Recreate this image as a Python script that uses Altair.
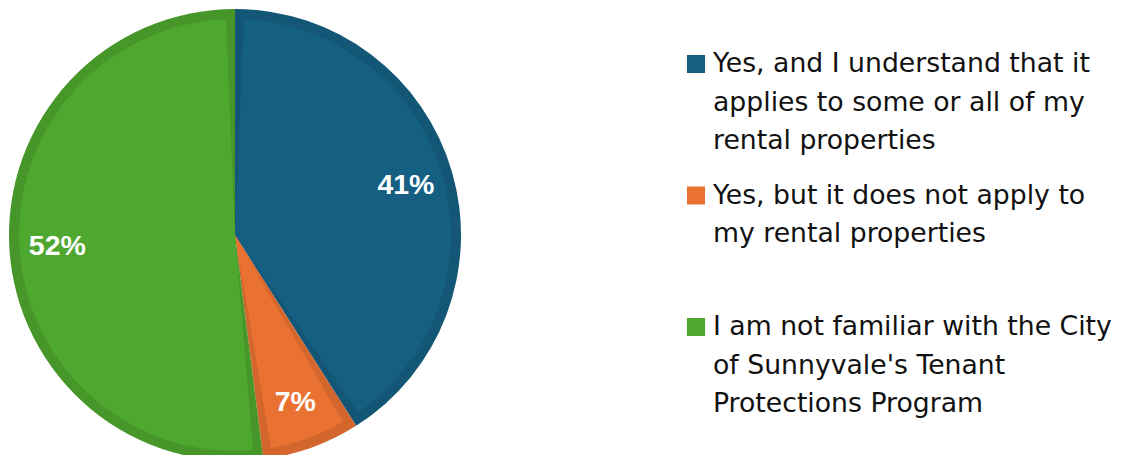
import altair as alt
import pandas as pd

categories = [
    "Yes, and I understand that it applies to some or all of my rental properties",
    "Yes, but it does not apply to my rental properties",
    "I am not familiar with the City of Sunnyvale's Tenant Protections Program",
]
legend_text = [
    "Yes, and I understand that it|applies to some or all of my|rental properties",
    "Yes, but it does not apply to|my rental properties",
    "I am not familiar with the City|of Sunnyvale's Tenant|Protections Program",
]
values = [41, 7, 52]
labels = ["41%", "7%", "52%"]
light_colors = ["#156082", "#E97132", "#4EA72E"]
dark_colors = ["#135675", "#D2662D", "#469629"]

df = pd.DataFrame({
    "cat": categories,
    "value": values,
    "label": labels,
    "order": list(range(len(categories))),
    "legend": legend_text,
    "idx": list(range(len(categories))),
})

theta = alt.Theta("value:Q", stack=True)
order = alt.Order("order:Q")

base = alt.Chart(df)

dark = base.mark_arc(outerRadius=226).encode(
    theta=theta,
    order=order,
    color=alt.Color("cat:N", scale=alt.Scale(domain=categories, range=dark_colors), legend=None),
)
light = base.mark_arc(outerRadius=216, padAngle=0.083).encode(
    theta=theta,
    order=order,
    color=alt.Color("cat:N", scale=alt.Scale(domain=categories, range=light_colors), legend=None),
)
text = base.mark_text(
    radius=178, fontSize=28.5, fontWeight="bold", color="white", font="Liberation Sans"
).encode(theta=theta, order=order, text="label:N")

pie = alt.layer(dark, light, text).resolve_scale(color="independent").properties(width=454, height=454)

ypos = alt.Y("idx:Q", scale=alt.Scale(domain=[0, 2], range=[56, 319], nice=False, zero=False), axis=None)

sym = base.mark_square(size=324, opacity=1).encode(
    x=alt.value(234),
    y=ypos,
    color=alt.Color("cat:N", scale=alt.Scale(domain=categories, range=light_colors), legend=None),
)
leg_text = base.mark_text(
    align="left", baseline="alphabetic", dy=8, fontSize=26.7, lineHeight=38.5,
    lineBreak="|", font="DejaVu Sans", color="#111111",
).encode(x=alt.value(251), y=ypos, text="legend:N")

legend = alt.layer(sym, leg_text).properties(width=640, height=454)

chart = alt.hconcat(pie, legend, spacing=0).properties(padding=0).configure_view(strokeWidth=0)

chart.save("out.html", embed_options={"renderer": "svg", "actions": False})
